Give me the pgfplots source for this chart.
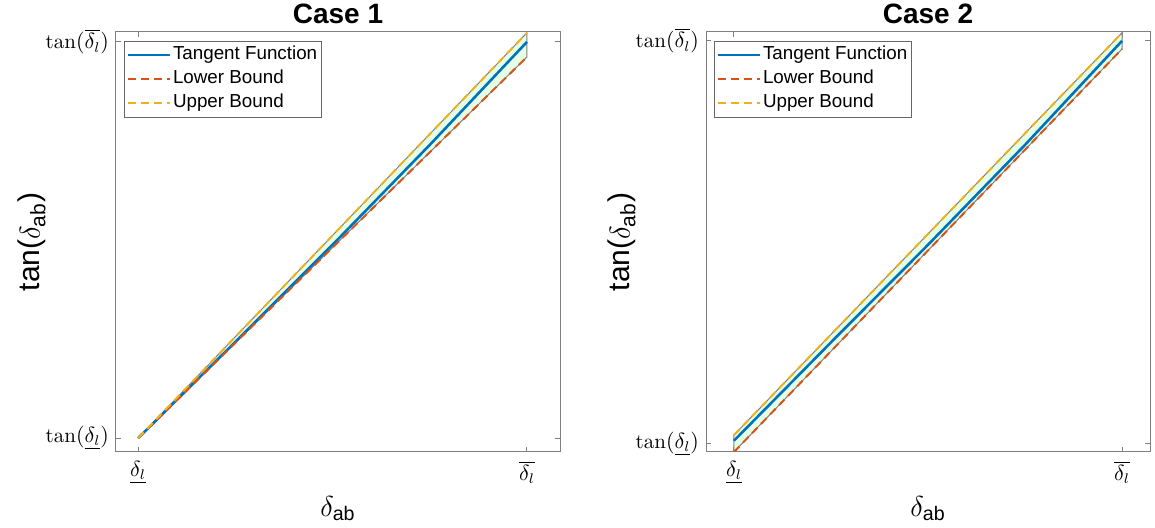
\documentclass[border=0pt]{standalone}
\usepackage{amsmath}
\usepackage{fontspec}
\newfontfamily\arial{Liberation Sans}
\usepackage{pgfplots}
\pgfplotsset{compat=1.18}

\definecolor{mblue}{rgb}{0,0.447,0.741}
\definecolor{mred}{rgb}{0.85,0.325,0.098}
\definecolor{myel}{rgb}{0.929,0.694,0.125}
\definecolor{mfill}{rgb}{0.9,1,0.9}

\pgfplotsset{
  caseax/.style={
    scale only axis, width=222pt, height=210pt,
    axis line style={black!50, line width=0.5pt},
    tick style={black!50, line width=0.5pt},
    tick align=inside, major tick length=2.5pt,
    xtick={0,1}, ytick={0,1},
    xticklabels={$\underline{\delta_l}$, $\overline{\delta_l}$},
    yticklabels={$\tan(\underline{\delta_l})$, $\tan(\overline{\delta_l})$},
    tick label style={font=\fontsize{10.5}{12}\selectfont},
    xticklabel style={yshift=-1pt},
    xlabel={$\delta_{\text{\arial ab}}$},
    ylabel={tan($\delta_{\text{\arial ab}}$)},
    xlabel style={at={(axis description cs:0.5,-0.1524)}, anchor=base,
      font=\arial\fontsize{14}{16}\selectfont},
    ylabel style={at={(axis description cs:-0.1712,0.5)}, anchor=base,
      font=\arial\fontsize{15}{17}\selectfont},
    title style={at={(axis description cs:0.5,1)}, anchor=base, yshift=-2pt,
      font=\arial\bfseries\fontsize{14}{16}\selectfont},
    legend style={at={(axis description cs:0,1)}, anchor=north west,
      xshift=4pt, yshift=-4.3pt, draw=black!60, line width=0.4pt, fill=white,
      font=\arial\fontsize{9.4}{11}\selectfont, inner xsep=1pt, inner ysep=1pt,
      row sep=0pt,
      nodes={inner xsep=1pt, inner ysep=1.25pt, text height=7pt, text depth=2.5pt}},
    legend cell align=left,
    legend image code/.code={\draw[#1] (0pt,0pt) -- (21pt,0pt);},
  },
  bnd/.style={line width=1pt, dash pattern=on 4pt off 2.5pt},
}

\begin{document}
\begin{tikzpicture}
\path[use as bounding box] (0,0) rectangle (577.5pt,264pt);

% Case 1
\begin{axis}[caseax, at={(58pt,38pt)}, anchor=south west,
  title={Case 1},
  xmin=-0.057, xmax=1.085, ymin=-0.035, ymax=1.025]
\addplot[draw=black!50, fill=mfill, line width=0.5pt, forget plot]
  coordinates {(0,0)(1,1.023)(1,0.962)} -- cycle;
\addplot[mblue, line width=1.3pt] coordinates {
  (0,0)(0.25,0.243)(0.5,0.488)(0.75,0.74)(1,1.0)};
\addlegendentry{Tangent Function}
\addplot[mred, bnd] coordinates {(0,0)(1,0.962)};
\addlegendentry{Lower Bound}
\addplot[myel, bnd] coordinates {(0,0)(1,1.023)};
\addlegendentry{Upper Bound}
\end{axis}

% Case 2
\begin{axis}[caseax, at={(353pt,38pt)}, anchor=south west,
  title={Case 2},
  xmin=-0.072, xmax=1.072, ymin=-0.02, ymax=1.022]
\addplot[draw=black!50, fill=mfill, line width=0.5pt, forget plot]
  coordinates {(0,0.022)(1,1.02)(1,0.98)(0,-0.02)} -- cycle;
\addplot[mblue, line width=1.3pt] coordinates {
  (0,0.008)(0.25,0.252)(0.5,0.494)(0.75,0.742)(1,1.0)};
\addlegendentry{Tangent Function}
\addplot[mred, bnd] coordinates {(0,-0.02)(1,0.98)};
\addlegendentry{Lower Bound}
\addplot[myel, bnd] coordinates {(0,0.022)(1,1.02)};
\addlegendentry{Upper Bound}
\end{axis}
\end{tikzpicture}
\end{document}
